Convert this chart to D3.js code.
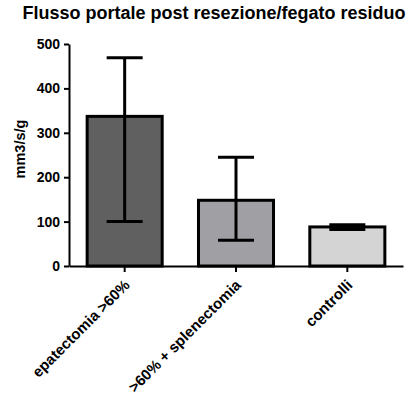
<!DOCTYPE html>
<html>
<head>
<meta charset="utf-8">
<script src="https://cdn.jsdelivr.net/npm/d3@7"></script>
<style>
  body { margin: 0; background: #fff; }
  text { font-family: "Liberation Sans", Arial, sans-serif; font-weight: bold; fill: #000; }
</style>
</head>
<body>
<div id="chart"></div>
<script>
var categories = ["epatectomia >60%", ">60% + splenectomia", "controlli"];
var means = [337, 148, 88];
var errLow = [100, 58, 82];
var errHigh = [469, 245, 93];
var fills = ["#606060", "#a0a0a4", "#d4d4d4"];
var yTicks = [0, 100, 200, 300, 400, 500];

var width = 414, height = 399;

var svg = d3.select("#chart").append("svg")
    .attr("width", width)
    .attr("height", height);

var x = d3.scaleBand()
    .domain(categories)
    .range([69, 403])
    .paddingInner(0.326)
    .paddingOuter(0.163);

var y = d3.scaleLinear()
    .domain([0, 500])
    .range([266, 44]);

// title
svg.append("text")
    .attr("x", 214)
    .attr("y", 19)
    .attr("text-anchor", "middle")
    .style("font-size", "18px")
    .text("Flusso portale post resezione/fegato residuo");

// y axis title
svg.append("text")
    .attr("transform", "translate(25,149)rotate(-90)")
    .attr("text-anchor", "middle")
    .style("font-size", "14.5px")
    .text("mm3/s/g");

// bars
svg.selectAll(".bar")
    .data(categories)
  .enter().append("rect")
    .attr("class", "bar")
    .attr("x", function(d) { return x(d); })
    .attr("y", function(d, i) { return y(means[i]); })
    .attr("width", x.bandwidth())
    .attr("height", function(d, i) { return y(0) - y(means[i]); })
    .attr("fill", function(d, i) { return fills[i]; })
    .attr("stroke", "#000")
    .attr("stroke-width", 3);

// error bars
var capW = 36;
var err = svg.selectAll(".err")
    .data(categories)
  .enter().append("g")
    .attr("class", "err")
    .attr("stroke", "#000")
    .attr("stroke-width", 3);

err.append("line")
    .attr("x1", function(d) { return x(d) + x.bandwidth() / 2; })
    .attr("x2", function(d) { return x(d) + x.bandwidth() / 2; })
    .attr("y1", function(d, i) { return y(errLow[i]); })
    .attr("y2", function(d, i) { return y(errHigh[i]); });

err.append("line")
    .attr("x1", function(d) { return x(d) + x.bandwidth() / 2 - capW / 2; })
    .attr("x2", function(d) { return x(d) + x.bandwidth() / 2 + capW / 2; })
    .attr("y1", function(d, i) { return y(errHigh[i]); })
    .attr("y2", function(d, i) { return y(errHigh[i]); });

err.append("line")
    .attr("x1", function(d) { return x(d) + x.bandwidth() / 2 - capW / 2; })
    .attr("x2", function(d) { return x(d) + x.bandwidth() / 2 + capW / 2; })
    .attr("y1", function(d, i) { return y(errLow[i]); })
    .attr("y2", function(d, i) { return y(errLow[i]); });

// y axis
var yAxis = svg.append("g")
    .attr("transform", "translate(69,0)")
    .call(d3.axisLeft(y).tickValues(yTicks).tickSize(5).tickPadding(4).tickSizeOuter(0));
yAxis.select(".domain").attr("stroke-width", 2);
yAxis.selectAll(".tick line").attr("stroke-width", 2);
yAxis.selectAll("text")
    .style("font-size", "14px")
    .style("font-family", "Liberation Sans, Arial, sans-serif")
    .style("font-weight", "bold");

// x axis
var xAxis = svg.append("g")
    .attr("transform", "translate(0,266)")
    .call(d3.axisBottom(x).tickSize(6).tickSizeOuter(0));
xAxis.select(".domain").attr("stroke-width", 2);
xAxis.selectAll(".tick line").attr("stroke-width", 2);
xAxis.selectAll("text")
    .attr("x", 0)
    .attr("y", 0)
    .attr("dy", null)
    .attr("text-anchor", "end")
    .attr("transform", "translate(6,20)rotate(-45)")
    .style("font-size", "15px")
    .style("font-family", "Liberation Sans, Arial, sans-serif")
    .style("font-weight", "bold");
</script>
</body>
</html>
